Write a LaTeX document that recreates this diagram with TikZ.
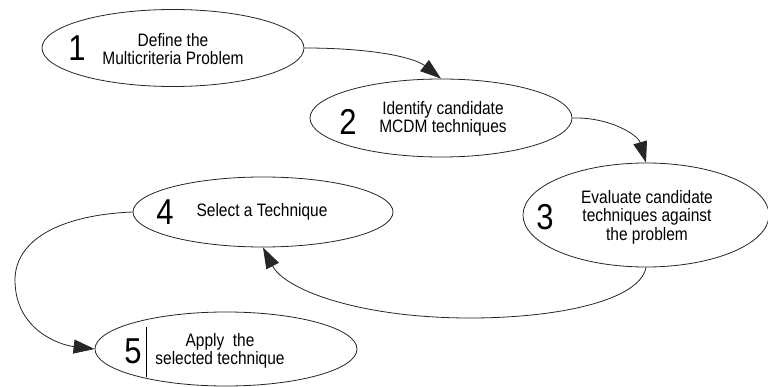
\documentclass[tikz,border=0pt]{standalone}
\usepackage{fontspec}
\setmainfont{Liberation Sans}[FakeStretch=0.86]
\usetikzlibrary{shapes.geometric,arrows.meta}
\begin{document}
\begin{tikzpicture}[x=1pt,y=-1pt,
  oval/.style={draw=black!85,line width=0.8pt,ellipse,inner sep=0pt,fill=white},
  num/.style={font=\fontsize{36}{36}\selectfont,inner sep=0pt},
  lbl/.style={font=\fontsize{18}{18.5}\selectfont,align=center,inner sep=0pt},
  conn/.style={draw=black!85,line width=0.8pt,-{Triangle[length=21pt,width=14pt]}}]
\useasboundingbox (0,0) rectangle (768,387);
% ellipses
\node[oval,minimum width=262pt,minimum height=77pt] (e1) at (173,48) {};
\node[oval,minimum width=262pt,minimum height=78pt] (e2) at (441,118) {};
\node[oval,minimum width=246pt,minimum height=104pt] (e3) at (646,215) {};
\node[oval,minimum width=260pt,minimum height=70pt] (e4) at (263,212) {};
\node[oval,minimum width=262pt,minimum height=74pt] (e5) at (226,349) {};
% numbers
\node[num] (n1) at (77,48) {1};
\node[num] (n2) at (348,122) {2};
\node[num] (n3) at (545,217) {3};
\node[num] (n4) at (165,212) {4};
\node[num] (n5) at (133,351) {5};
% labels
\node[lbl] (t1) at (173,49) {Define the\\Multicriteria Problem};
\node[lbl] (t2) at (443,119) {Identify candidate\\MCDM techniques};
\node[lbl] (t3) at (647,217) {Evaluate candidate\\techniques against\\the problem};
\node[lbl] (t4) at (262,212) {Select a Technique};
\node[lbl] (t5) at (220,351) {Apply\ \ the\\selected technique};
% bar after 5
\coordinate (b1) at (146,327);
\coordinate (b2) at (146,377);
\draw[line width=0.8pt] (b1) -- (b2);
% connectors
\draw[conn] (e1.east) .. controls (375,48) and (415,58) .. (e2.north);
\draw[conn] (e2.east) .. controls (610,117) and (638,135) .. (e3.north);
\draw[conn] (e3.south) .. controls (640,300) and (560,318) .. (470,318)
  .. controls (360,318) and (285,290) .. (e4.south);
\draw[conn] (e4.west) .. controls (60,215) and (15,240) .. (15,280)
  .. controls (15,330) and (60,345) .. (e5.west);
\end{tikzpicture}
\end{document}
